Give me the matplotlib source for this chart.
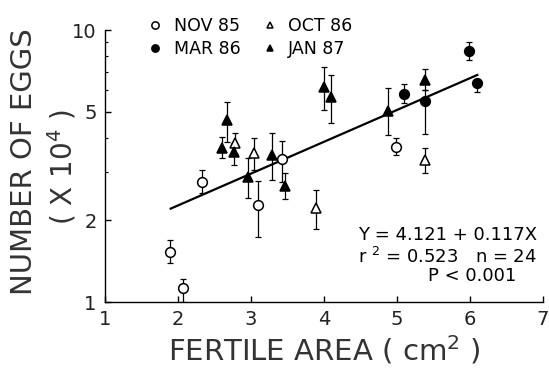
import numpy as np
import matplotlib
matplotlib.use("Agg")
import matplotlib.pyplot as plt
from matplotlib.ticker import FixedLocator, NullFormatter, FixedFormatter

# ---- data (eggs in units of 10^4) ----
nov85_x = [1.89, 2.07, 2.33, 3.10, 3.43, 4.98]
nov85_y = [1.53, 1.13, 2.76, 2.27, 3.35, 3.72]
nov85_lo = [1.39, 1.00, 2.52, 1.73, 2.76, 3.47]
nov85_hi = [1.69, 1.22, 3.06, 2.78, 3.91, 4.00]

mar86_x = [5.10, 5.38, 5.99, 6.10]
mar86_y = [5.82, 5.48, 8.37, 6.38]
mar86_lo = [5.39, 4.15, 7.75, 5.90]
mar86_hi = [6.34, 6.00, 9.00, 6.55]

oct86_x = [2.78, 3.04, 3.89, 5.38]
oct86_y = [3.84, 3.53, 2.21, 3.33]
oct86_lo = [3.50, 3.06, 1.85, 2.98]
oct86_hi = [4.18, 4.00, 2.58, 3.68]

jan87_x = [2.60, 2.67, 2.77, 2.96, 3.29, 3.46, 4.00, 4.10, 4.87, 5.38]
jan87_y = [3.68, 4.67, 3.55, 2.88, 3.47, 2.67, 6.17, 5.67, 5.04, 6.55]
jan87_lo = [3.38, 3.87, 3.19, 2.41, 2.81, 2.39, 5.08, 4.55, 4.10, 6.00]
jan87_hi = [4.04, 5.43, 3.85, 3.38, 4.18, 2.98, 7.30, 6.83, 6.12, 7.19]

reg_intercept = 4.121
reg_slope = 0.117
reg_xrange = [1.9, 6.1]

x_ticks = [1, 2, 3, 4, 5, 6, 7]
y_ticks = [1, 2, 5, 10]
y_minor = [3, 4, 6, 7, 8, 9]

plt.rcParams['font.family'] = ['DejaVu Sans']
fig = plt.figure(figsize=(5.49, 3.75), dpi=100)
ax = fig.add_axes([105/549, 1-302/375, (543-105)/549, (302-30)/375])

series = [
    ("NOV 85", nov85_x, nov85_y, nov85_lo, nov85_hi, 'o', 'white', 7),
    ("MAR 86", mar86_x, mar86_y, mar86_lo, mar86_hi, 'o', 'black', 7),
    ("OCT 86", oct86_x, oct86_y, oct86_lo, oct86_hi, '^', 'white', 6.5),
    ("JAN 87", jan87_x, jan87_y, jan87_lo, jan87_hi, '^', 'black', 6.5),
]
handles = {}
for name, xs, ys, lo, hi, m, fc, ms in series:
    ys = np.array(ys); lo = np.array(lo); hi = np.array(hi)
    ax.errorbar(xs, ys, yerr=[ys - lo, hi - ys], fmt='none', ecolor='black',
                elinewidth=0.9, capsize=2.2, capthick=0.9, zorder=2)
    h, = ax.plot(xs, ys, linestyle='none', marker=m, markerfacecolor=fc,
                 markeredgecolor='black', markeredgewidth=1.1, markersize=ms,
                 zorder=3, label=name)
    handles[name] = h

xr = np.array(reg_xrange)
ax.plot(xr, 10 ** (reg_intercept + reg_slope * xr) / 1e4, color='black', lw=1.6, zorder=2.5)

ax.set_yscale('log')
ax.set_xlim(1, 7)
ax.set_ylim(1, 10)
ax.xaxis.set_major_locator(FixedLocator(x_ticks))
ax.xaxis.set_major_formatter(FixedFormatter([str(t) for t in x_ticks]))
ax.yaxis.set_major_locator(FixedLocator(y_ticks))
ax.yaxis.set_major_formatter(FixedFormatter([str(t) for t in y_ticks]))
ax.yaxis.set_minor_locator(FixedLocator(y_minor))
ax.yaxis.set_minor_formatter(NullFormatter())
ax.xaxis.set_minor_locator(FixedLocator([]))
ax.spines['top'].set_visible(False)
ax.spines['right'].set_visible(False)
for s in ['left', 'bottom']:
    ax.spines[s].set_linewidth(1.0)
ax.tick_params(axis='both', which='major', direction='in', length=4, width=1,
               labelsize=14, pad=6, colors='black', labelcolor='#222222')
ax.tick_params(axis='y', which='minor', direction='in', length=2.5, width=0.8)

ax.set_xlabel(r'FERTILE AREA ( cm$^{2}$ )', fontsize=21, labelpad=3, color='#333333')
fig.text(24/549, 1-162/375, 'NUMBER OF EGGS', rotation=90, fontsize=21,
         ha='center', va='center', color='#333333')
fig.text(62/549, 1-167/375, r'( X 10$^{4}$ )', rotation=90, fontsize=20,
         ha='center', va='center', color='#333333')

# legend
leg = fig.legend([handles['NOV 85'], handles['MAR 86'], handles['OCT 86'], handles['JAN 87']],
                 ['NOV 85', 'MAR 86', 'OCT 86', 'JAN 87'], ncol=2, frameon=False,
                 loc='upper left', bbox_to_anchor=(138/549, 1-8/375), fontsize=12.5,
                 handlelength=1.0, handletextpad=0.55, columnspacing=1.2,
                 labelspacing=0.3, borderpad=0, markerscale=0.75)

# statistics text
fig.text(358/549, 1-235/375, 'Y = 4.121 + 0.117X', fontsize=13, ha='left', va='center')
fig.text(358/549, 1-257/375, r'r $^{2}$ = 0.523   n = 24', fontsize=13, ha='left', va='center')
fig.text(472/549, 1-276/375, 'P < 0.001', fontsize=13, ha='center', va='center')

fig.savefig('out.png', dpi=100)
